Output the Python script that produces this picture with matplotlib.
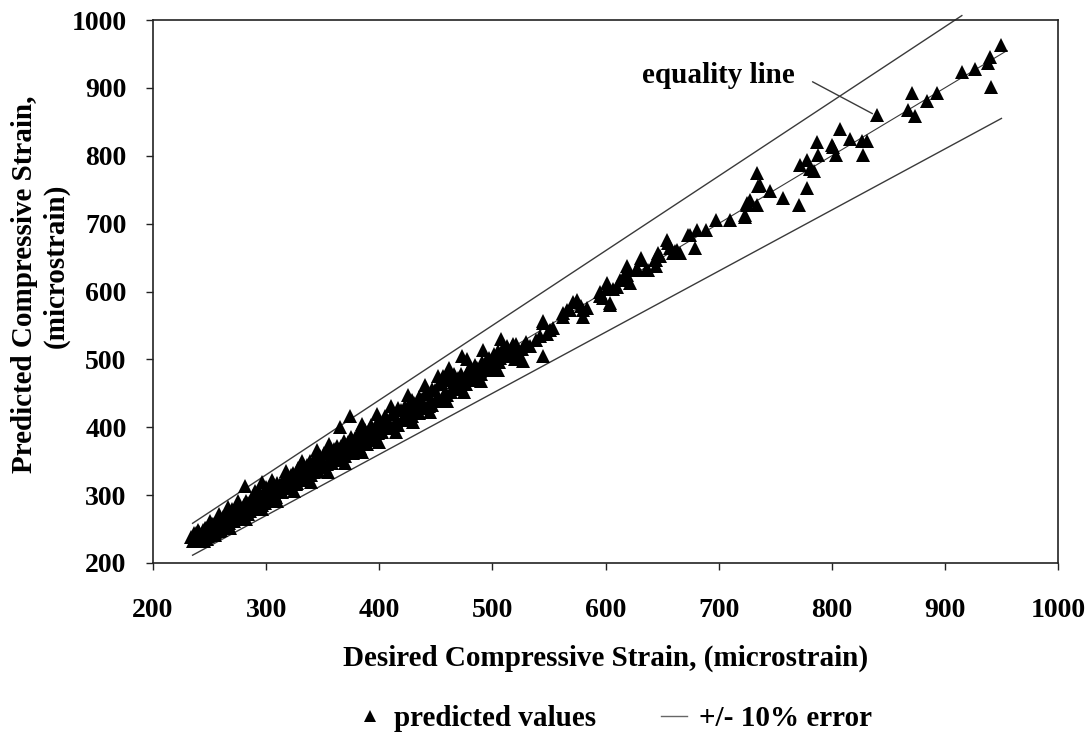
import matplotlib
matplotlib.use("Agg")
import matplotlib.pyplot as plt
from matplotlib.lines import Line2D

# Desired vs. predicted compressive strain (microstrain)
desired = [
    234, 235, 236, 237, 238, 239, 240, 241, 242, 243, 244, 245, 246, 247, 248,
    249, 250, 251, 252, 253, 254, 255, 256, 257, 258, 259, 260,
    236, 238, 240, 242, 244, 246, 248, 250, 252, 254, 256, 258, 260, 262, 264,
    266, 268, 270, 272, 274, 276, 278, 280, 282, 284, 286, 288, 290, 292, 294,
    296, 298, 300, 302, 304,
    261, 262, 263, 264, 265, 266, 267, 268, 269, 270, 271, 272, 273, 274, 275,
    276, 277, 278, 279, 281, 280, 282, 283, 284, 285, 286, 287, 288, 289, 290,
    291, 292, 293, 294, 295, 296, 297, 298, 299, 300,
    302, 304, 306, 308, 310, 312, 314, 316, 318, 320, 322, 324, 326, 328, 330,
    332, 334, 336, 338, 340, 342, 344, 346, 348, 350, 352, 354, 356, 358, 360,
    362, 364, 365, 366, 368, 370, 372, 374, 375, 377, 379, 381, 383, 385, 387,
    389, 391, 393, 395, 397, 399,
    306, 309, 312, 315, 318, 321, 324, 327, 330, 333, 336, 339, 342, 345, 348,
    351, 354, 357, 360, 363, 366, 369, 372, 375, 378, 381, 384, 387, 390, 393,
    396, 399, 402, 405, 408, 411, 414, 417, 420, 423, 426, 429, 432, 435, 438,
    441, 444, 447, 450, 453, 457, 460, 463, 466, 470, 474, 478, 482, 486, 490,
    494, 498, 502, 506, 510, 514, 518, 522,
    401, 403, 405, 407, 409, 411, 413, 415, 417, 419, 421, 423, 425, 427, 429,
    431, 433, 435, 437, 439, 441, 443, 445, 447, 449, 451, 453, 455, 456, 458,
    460, 462, 464, 466, 468, 470, 473, 472, 475, 477, 479, 481, 483, 485, 487,
    489, 491, 493, 495, 497, 499, 501, 503, 505, 507, 509, 511, 513, 515, 517,
    519, 521, 524, 526, 528, 530,
    250, 258, 266, 275, 290, 305, 318, 332, 345, 356, 385, 398, 410, 425, 440,
    452, 462, 478, 492, 508,
    245, 255, 268, 282, 296, 310, 325, 340, 355, 370, 385, 400, 415, 430, 445,
    460, 475, 490, 505, 520,
    527, 533, 539, 545, 548, 545, 554, 545, 551, 542, 562, 562, 566, 569, 571,
    575, 578, 580, 580, 584,
    595, 598, 595, 601, 601, 604, 604, 607, 610, 613, 616, 619, 619, 619, 622,
    628, 628, 631, 631, 636, 638, 644, 645, 645, 646, 648, 654, 655, 657, 660,
    661, 663, 666, 673, 675, 679, 681, 689, 698, 710, 723, 723, 725, 725, 728,
    734, 734, 735, 737, 745, 757, 771, 772, 778, 778, 781, 784, 787, 788, 800,
    801, 804, 807, 816, 827, 831, 828, 840, 867, 874, 871, 884, 893, 915, 927,
    938, 940, 941, 950,
]
predicted = [
    238, 232, 241, 235, 244, 237, 233, 246, 239, 236, 248, 241, 238, 251, 243,
    240, 255, 246, 242, 258, 249, 245, 261, 252, 247, 263, 254,
    244, 236, 249, 234, 240, 252, 236, 246, 257, 244, 252, 266, 249, 260, 270,
    256, 268, 280, 262, 270, 285, 266, 276, 292, 272, 283, 298, 280, 290, 305,
    286, 298, 312, 292, 303,
    258, 268, 262, 255, 271, 264, 259, 274, 266, 262, 277, 269, 265, 280, 272,
    268, 283, 275, 270, 314, 286, 278, 273, 289, 281, 276, 292, 284, 279, 295,
    287, 282, 298, 290, 285, 320, 301, 293, 288, 304,
    298, 312, 303, 300, 318, 309, 304, 324, 314, 310, 330, 320, 316, 340, 326,
    336, 328, 345, 334, 330, 352, 341, 336, 357, 346, 342, 362, 352, 347, 368,
    357, 352, 401, 373, 362, 357, 379, 416, 367, 362, 384, 374, 369, 390, 380,
    375, 396, 386, 381, 402, 392,
    318, 297, 316, 310, 327, 313, 333, 318, 343, 322, 340, 350, 334, 352, 342,
    362, 346, 365, 352, 372, 358, 380, 363, 385, 370, 392, 375, 396, 381, 404,
    388, 409, 393, 416, 399, 420, 405, 428, 410, 432, 416, 440, 421, 445, 428,
    452, 432, 457, 439, 463, 446, 470, 452, 467, 472, 463, 480, 470, 488, 479,
    497, 487, 504, 496, 512, 505, 522, 512,
    396, 408, 399, 412, 404, 399, 419, 409, 404, 425, 414, 418, 430, 420, 416,
    436, 426, 421, 442, 433, 428, 449, 438, 433, 455, 444, 440, 466, 475, 452,
    447, 471, 457, 479, 461, 456, 505, 478, 469, 463, 486, 475, 480, 492, 469,
    483, 496, 487, 484, 502, 493, 508, 498, 512, 502, 517, 506, 520, 510, 518,
    512, 522, 500, 516, 520, 525,
    262, 272, 282, 292, 306, 322, 336, 351, 366, 376, 405, 420, 432, 447, 462,
    476, 488, 500, 514, 530,
    232, 241, 252, 265, 280, 292, 306, 320, 334, 348, 364, 378, 393, 408, 422,
    438, 452, 468, 484, 500,
    497, 519, 528, 505, 538, 553, 546, 556, 544, 535, 568, 563, 573, 573, 585,
    588, 578, 573, 563, 576,
    593, 590, 600, 603, 612, 583, 580, 603, 607, 617, 617, 632, 637, 625, 612,
    632, 634, 646, 649, 632, 632, 646, 637, 646, 657, 653, 676, 671, 664, 657,
    659, 661, 657, 683, 683, 664, 690, 690, 705, 705, 713, 710, 730, 727, 735,
    727, 775, 756, 757, 748, 738, 727, 786, 794, 753, 780, 777, 820, 801, 816,
    813, 801, 840, 825, 822, 822, 801, 860, 867, 858, 892, 880, 892, 923, 928,
    937, 946, 902, 963,
]

# Reference lines: equality and +/- 10 % error bounds
line_start = 235
upper_end = 915
lower_end = 950
equality_end = 955
error_fraction = 0.10

axis_ticks = [200, 300, 400, 500, 600, 700, 800, 900, 1000]

serif = "Liberation Serif"
tick_size = 20
label_size = 21

fig = plt.figure(figsize=(10.92, 7.37), dpi=100)
ax = fig.add_axes([153 / 1092, 174 / 737, 905 / 1092, 543 / 737])

line_color = "#3a3a3a"
ax.plot([line_start, upper_end],
        [line_start * (1 + error_fraction), upper_end * (1 + error_fraction)],
        color=line_color, lw=1.0, clip_on=False, zorder=2)
ax.plot([line_start, lower_end],
        [line_start * (1 - error_fraction), lower_end * (1 - error_fraction)],
        color=line_color, lw=1.0, clip_on=False, zorder=2)
ax.plot([line_start, equality_end], [line_start, equality_end],
        color=line_color, lw=0.8, zorder=2)

ax.plot(desired, predicted, linestyle="none", marker="^", ms=10.5,
        color="black", markeredgewidth=0, zorder=3)

ax.set_xlim(200, 1000)
ax.set_ylim(200, 1000)
ax.set_xticks(axis_ticks)
ax.set_yticks(axis_ticks)

for side in ("left", "right", "top", "bottom"):
    ax.spines[side].set_linewidth(1.2)
    ax.spines[side].set_color("#222222")

ax.tick_params(axis="both", direction="out", length=5, width=1.0,
               color="#222222")
ax.tick_params(axis="y", pad=14)
ax.tick_params(axis="x", pad=20)
for lab in ax.get_xticklabels() + ax.get_yticklabels():
    lab.set_fontfamily(serif)
    lab.set_fontweight("bold")
    lab.set_fontsize(tick_size)

ax.set_xlabel("Desired Compressive Strain, (microstrain)", family=serif,
              weight="bold", fontsize=label_size, labelpad=16)

# Two-line y-axis title, placed in figure pixels
fig.text(25 / 1092, 1 - 284 / 737, "Predicted Compressive Strain,",
         family=serif, weight="bold", fontsize=label_size, rotation=90,
         ha="center", va="center")
fig.text(56 / 1092, 1 - 266 / 737, "(microstrain)",
         family=serif, weight="bold", fontsize=label_size, rotation=90,
         ha="center", va="center")

ax.text(700, 918, "equality line", family=serif, weight="bold",
        fontsize=label_size, ha="center", va="center")
ax.annotate("", xy=(836, 862), xytext=(783, 909),
            arrowprops=dict(arrowstyle="-", color=line_color, lw=1.0,
                            shrinkA=0, shrinkB=0))

handles = [
    Line2D([], [], linestyle="none", marker="^", ms=8, color="black",
           markeredgewidth=0),
    Line2D([], [], color="#666666", lw=1.0),
]
fig.legend(handles, ["predicted values", "+/- 10% error"], loc="center",
           bbox_to_anchor=(614 / 1092, 18 / 737), ncol=2, frameon=False,
           handlelength=0.9, handletextpad=0.4, columnspacing=2.2,
           prop=dict(family=serif, weight="bold", size=label_size))

fig.savefig("out.png", dpi=100)
